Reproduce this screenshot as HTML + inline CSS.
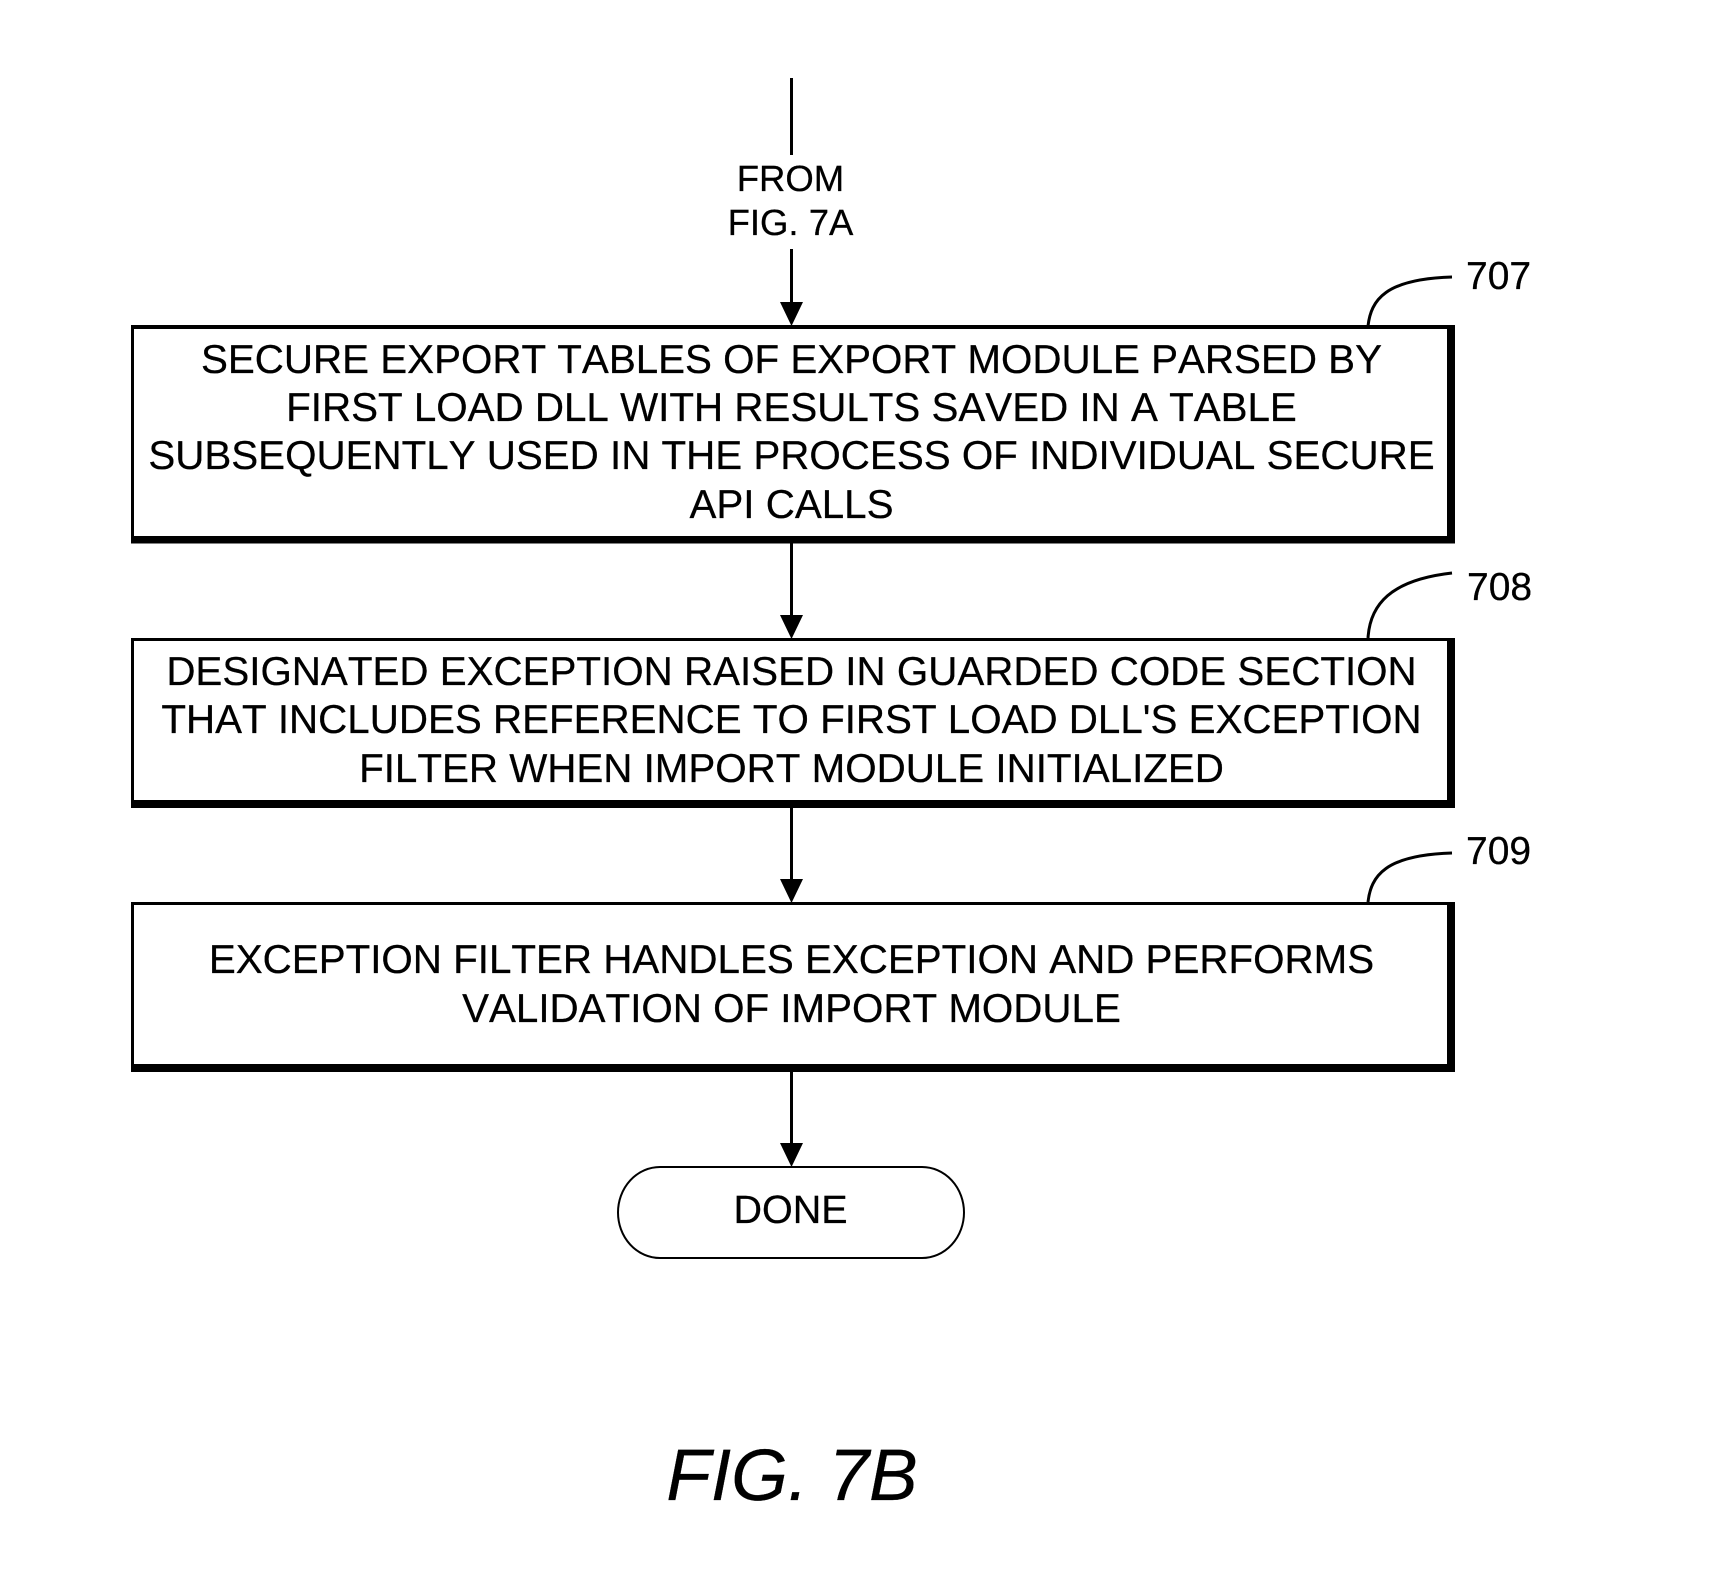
<!DOCTYPE html>
<html>
<head>
<meta charset="utf-8">
<title>FIG. 7B</title>
<style>
html,body{margin:0;padding:0;background:#fff;width:1729px;height:1596px;overflow:hidden}
svg{display:block}
text{font-family:"Liberation Sans",Arial,sans-serif;fill:#000;stroke:#000;stroke-width:.25px;text-rendering:geometricPrecision;font-kerning:none}
.t{font-size:40.35px;text-anchor:middle}
.s{font-size:36.5px;text-anchor:middle}
.n{font-size:39px}
</style>
</head>
<body>
<svg width="1729" height="1596" viewBox="0 0 1729 1596" xmlns="http://www.w3.org/2000/svg">
<rect width="1729" height="1596" fill="#fff"/>

<!-- Top connector -->
<rect x="790" y="78" width="3" height="77" fill="#000"/>
<text class="s" x="790.5" y="191">FROM</text>
<text class="s" x="790.5" y="235">FIG. 7A</text>
<rect x="790" y="249" width="3" height="54" fill="#000"/>
<polygon points="780,302 803,302 791.5,326" fill="#000"/>

<!-- Box 707 -->
<rect x="131" y="325" width="1324" height="218.500" fill="#000"/>
<rect x="134" y="329" width="1313" height="207" fill="#fff"/>
<text class="t" x="791.5" y="373">SECURE EXPORT TABLES OF EXPORT MODULE PARSED BY</text>
<text class="t" x="791.5" y="421">FIRST LOAD DLL WITH RESULTS SAVED IN A TABLE</text>
<text class="t" x="791.5" y="469">SUBSEQUENTLY USED IN THE PROCESS OF INDIVIDUAL SECURE</text>
<text class="t" x="791.5" y="518">API CALLS</text>
<path d="M1368,326 C1371,300 1385,279 1452,277" fill="none" stroke="#000" stroke-width="3"/>
<text class="n" x="1466" y="289">707</text>

<!-- Connector -->
<rect x="790" y="543" width="3" height="73" fill="#000"/>
<polygon points="780,615 803,615 791.5,639" fill="#000"/>

<!-- Box 708 -->
<rect x="131" y="638" width="1324" height="170" fill="#000"/>
<rect x="134" y="641" width="1313" height="159" fill="#fff"/>
<text class="t" x="791.5" y="685">DESIGNATED EXCEPTION RAISED IN GUARDED CODE SECTION</text>
<text class="t" x="791.500" y="733">THAT INCLUDES REFERENCE TO FIRST LOAD DLL'S EXCEPTION</text>
<text class="t" x="791.5" y="782">FILTER WHEN IMPORT MODULE INITIALIZED</text>
<path d="M1368,638 C1370,605 1390,580 1452,573" fill="none" stroke="#000" stroke-width="3"/>
<text class="n" x="1467" y="600">708</text>

<!-- Connector -->
<rect x="790" y="808" width="3" height="72" fill="#000"/>
<polygon points="780,879 803,879 791.5,903" fill="#000"/>

<!-- Box 709 -->
<rect x="131" y="902" width="1324" height="170" fill="#000"/>
<rect x="134" y="905" width="1313" height="159" fill="#fff"/>
<text class="t" x="791.5" y="973">EXCEPTION FILTER HANDLES EXCEPTION AND PERFORMS</text>
<text class="t" x="791.5" y="1022">VALIDATION OF IMPORT MODULE</text>
<path d="M1368,902 C1371,876 1385,855 1452,853" fill="none" stroke="#000" stroke-width="3"/>
<text class="n" x="1466" y="864">709</text>

<!-- Connector -->
<rect x="790" y="1072" width="3" height="72" fill="#000"/>

<!-- Done -->
<rect x="618" y="1167" width="346" height="91" rx="42" ry="45.500" fill="#fff" stroke="#000" stroke-width="2"/>
<polygon points="780,1143 803,1143 791.5,1167" fill="#000"/>
<text x="790.5" y="1223" style="font-size:39.500px;text-anchor:middle">DONE</text>

<!-- Figure label -->
<text x="792" y="1500" style="font-size:73px;font-style:italic;text-anchor:middle">FIG. 7B</text>
</svg>
</body>
</html>
